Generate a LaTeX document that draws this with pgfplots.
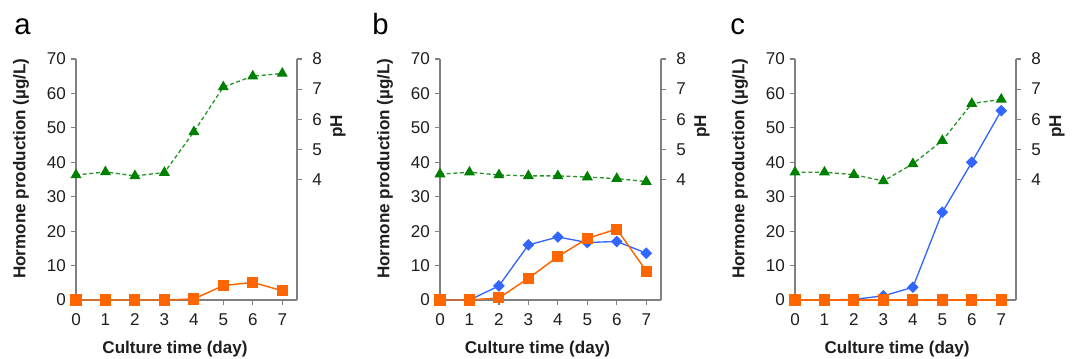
\documentclass[border=0pt]{standalone}
\usepackage{fontspec}
\setmainfont{Liberation Sans}
\usepackage{pgfplots}
\pgfplotsset{compat=1.18}
\definecolor{mygreen}{RGB}{0,128,0}
\definecolor{mygreenline}{RGB}{40,150,40}
\definecolor{myorange}{RGB}{255,102,0}
\definecolor{myblue}{RGB}{51,102,255}
\definecolor{axgray}{RGB}{128,128,128}
\definecolor{txt}{RGB}{30,30,30}
\pgfplotsset{
  base/.style={
    scale only axis, width=165.75pt, height=180.75pt,
    xmin=0, xmax=7.5, clip=false,
    axis line style={axgray, line width=0.9pt},
    tick style={axgray, line width=0.9pt},
    major tick length=4pt,
    tick align=outside,
    /pgf/number format/assume math mode=true,
    tick label style={font=\fontsize{12.8}{15}\selectfont, text=txt},
    label style={font=\bfseries\fontsize{12.8}{15}\selectfont, text=txt},
  },
  leftax/.style={base,
    axis y line*=left, axis x line*=bottom,
    ymin=0, ymax=70, ytick={0,10,...,70}, xtick={0,...,7},
    xticklabel style={yshift=-3pt},
    ylabel={Hormone production (µg/L)},
    ylabel style={at={(axis description cs:-0.249,0.545)}, anchor=center},
    xlabel={Culture time (day)},
  },
  rightax/.style={base,
    axis y line*=right, axis x line=none,
    ymin=0, ymax=8, ytick={4,...,8},
    yticklabel style={xshift=4pt},
    ylabel={pH},
    ylabel style={at={(axis description cs:1.186,0.72)}, anchor=center},
  },
  gr/.style={mygreenline, densely dashed, line width=1pt, mark=triangle*, mark size=3.8pt,
    mark options={solid, fill=mygreen, draw=mygreen}},
  orr/.style={myorange, line width=1.1pt, mark=square*, mark size=3.6pt,
    mark options={fill=myorange, draw=myorange}},
  bl/.style={myblue, line width=1pt, mark=square*, mark size=2.6pt,
    mark options={rotate=45, fill=myblue, draw=myblue}},
}
\begin{document}
\begin{tikzpicture}
\path[use as bounding box] (0,0) rectangle (804pt,268.5pt);
% panel a
\begin{axis}[leftax, at={(57pt,43.5pt)}, anchor=south west,
  xlabel style={at={(axis description cs:0.448,0)}, anchor=center, yshift=-36.75pt}]
\addplot[orr] coordinates {(0,0) (1,0) (2,0) (3,0) (4,0.3) (5,4.2) (6,5.1) (7,2.7)};
\end{axis}
\begin{axis}[rightax, at={(57pt,43.5pt)}, anchor=south west]
\addplot[gr] coordinates {(0,4.15) (1,4.25) (2,4.12) (3,4.23) (4,5.58) (5,7.07) (6,7.43) (7,7.52)};
\end{axis}
\node[anchor=base west, font=\fontsize{22}{24}\selectfont, text=black, inner sep=0pt] at (10.5pt,242.25pt) {a};
% panel b
\begin{axis}[leftax, at={(330pt,43.5pt)}, anchor=south west,
  xlabel style={at={(axis description cs:0.441,0)}, anchor=center, yshift=-36.75pt}]
\addplot[bl] coordinates {(0,0) (1,0) (2,4.1) (3,16.0) (4,18.3) (5,16.7) (6,17.0) (7,13.6)};
\addplot[orr] coordinates {(0,0) (1,0) (2,0.6) (3,6.3) (4,12.6) (5,17.9) (6,20.6) (7,8.4)};
\end{axis}
\begin{axis}[rightax, at={(330pt,43.5pt)}, anchor=south west]
\addplot[gr] coordinates {(0,4.18) (1,4.24) (2,4.15) (3,4.12) (4,4.12) (5,4.08) (6,4.03) (7,3.93)};
\end{axis}
\node[anchor=base west, font=\fontsize{22}{24}\selectfont, text=black, inner sep=0pt] at (279pt,242.25pt) {b};
% panel c
\begin{axis}[leftax, at={(596.25pt,43.5pt)}, anchor=south west,
  xlabel style={at={(axis description cs:0.462,0)}, anchor=center, yshift=-36.75pt}]
\addplot[bl] coordinates {(0,0) (1,0) (2,0.2) (3,1.2) (4,3.7) (5,25.5) (6,40) (7,55)};
\addplot[orr] coordinates {(0,0) (1,0) (2,0) (3,0) (4,0) (5,0) (6,0) (7,0)};
\end{axis}
\begin{axis}[rightax, at={(596.25pt,43.5pt)}, anchor=south west]
\addplot[gr] coordinates {(0,4.24) (1,4.24) (2,4.16) (3,3.95) (4,4.52) (5,5.29) (6,6.52) (7,6.66)};
\end{axis}
\node[anchor=base west, font=\fontsize{22}{24}\selectfont, text=black, inner sep=0pt] at (547.5pt,242.25pt) {c};
\end{tikzpicture}
\end{document}
